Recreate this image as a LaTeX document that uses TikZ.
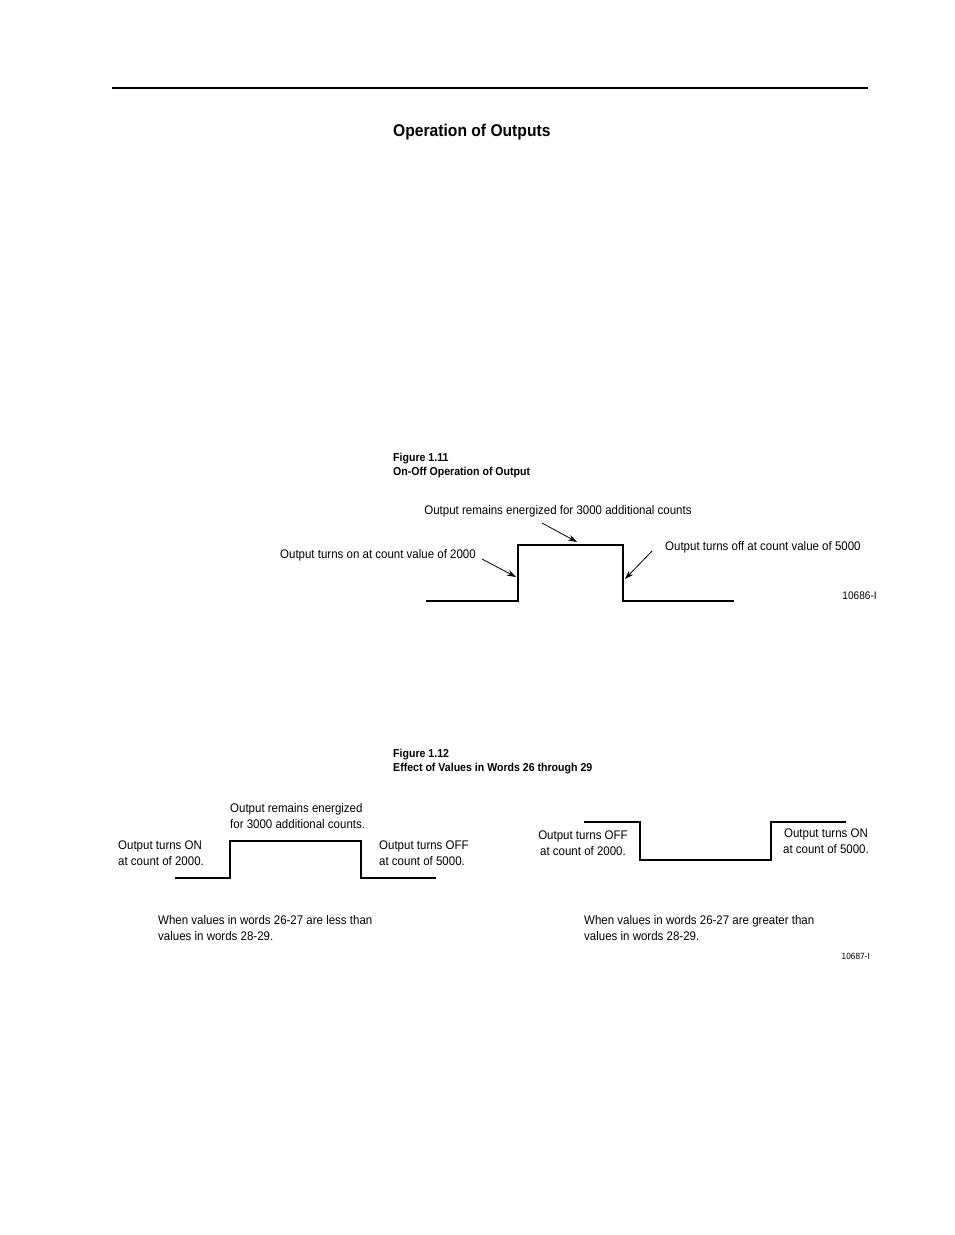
\documentclass[tikz,border=0pt]{standalone}
\usepackage{fontspec}
\usetikzlibrary{arrows.meta}
\setmainfont[FakeStretch=0.92]{Liberation Sans}
\begin{document}
\begin{tikzpicture}[x=1pt,y=-1pt,
  lab/.style={inner sep=0pt,font=\fontsize{12.5}{16}\selectfont},
  wave/.style={line width=1.1pt},
  arr/.style={line width=0.8pt,-{Stealth[length=9pt,width=6pt]}}]
\useasboundingbox (0,0) rectangle (954,1235);
\draw[line width=1.6pt] (112,88) -- (868,88);
\node[lab,anchor=west,font=\fontsize{17}{18}\selectfont\bfseries] (title) at (393,132) {Operation of Outputs};
\node[lab,anchor=west,font=\fontsize{11.5}{14}\selectfont\bfseries] (f11) at (393,459) {Figure 1.11};
\node[lab,anchor=west,font=\fontsize{11.5}{14}\selectfont\bfseries] (f11b) at (393,473) {On-Off Operation of Output};
\draw[wave] (426,601) -- (518,601) -- (518,545) -- (623,545) -- (623,601) -- (734,601);
\coordinate (a1s) at (482,559); \coordinate (a1e) at (516,577);
\coordinate (a2s) at (542,523); \coordinate (a2e) at (577,542);
\coordinate (a3s) at (652,551); \coordinate (a3e) at (625,579);
\draw[arr] (a1s) -- (a1e);
\draw[arr] (a2s) -- (a2e);
\draw[arr] (a3s) -- (a3e);
\node[lab] (t1) at (558,511) {Output remains energized for 3000 additional counts};
\node[lab,anchor=east] (t2) at (476,555) {Output turns on at count value of 2000};
\node[lab,anchor=west] (t3) at (665,547) {Output turns off at count value of 5000};
\node[lab,anchor=east,font=\fontsize{11}{12}\selectfont] (n1) at (877,596) {10686-I};
\node[lab,anchor=west,font=\fontsize{11.5}{14}\selectfont\bfseries] (f12) at (393,755) {Figure 1.12};
\node[lab,anchor=west,font=\fontsize{11.5}{14}\selectfont\bfseries] (f12b) at (393,769) {Effect of Values in Words 26 through 29};
\draw[wave] (175,878) -- (230,878) -- (230,841) -- (361,841) -- (361,878) -- (436,878);
\draw[wave] (584,822) -- (640,822) -- (640,860) -- (771,860) -- (771,822) -- (846,822);
\node[lab,anchor=north west,align=left] (l1) at (230,803) {Output remains energized\\for 3000 additional counts.};
\node[lab,anchor=north west,align=left] (l2) at (118,841) {Output turns ON\\at count of 2000.};
\node[lab,anchor=north west,align=left] (l3) at (379,841) {Output turns OFF\\at count of 5000.};
\node[lab,anchor=north,align=center] (r1) at (583,831) {Output turns OFF\\at count of 2000.};
\node[lab,anchor=north,align=center] (r2) at (826,829) {Output turns ON\\at count of 5000.};
\node[lab,anchor=north west,align=left] (w1) at (158,915) {When values in words 26-27 are less than\\values in words 28-29.};
\node[lab,anchor=north west,align=left] (w2) at (584,915) {When values in words 26-27 are greater than\\values in words 28-29.};
\node[lab,anchor=east,font=\fontsize{9}{10}\selectfont] (n2) at (870,956) {10687-I};
\end{tikzpicture}
\end{document}
